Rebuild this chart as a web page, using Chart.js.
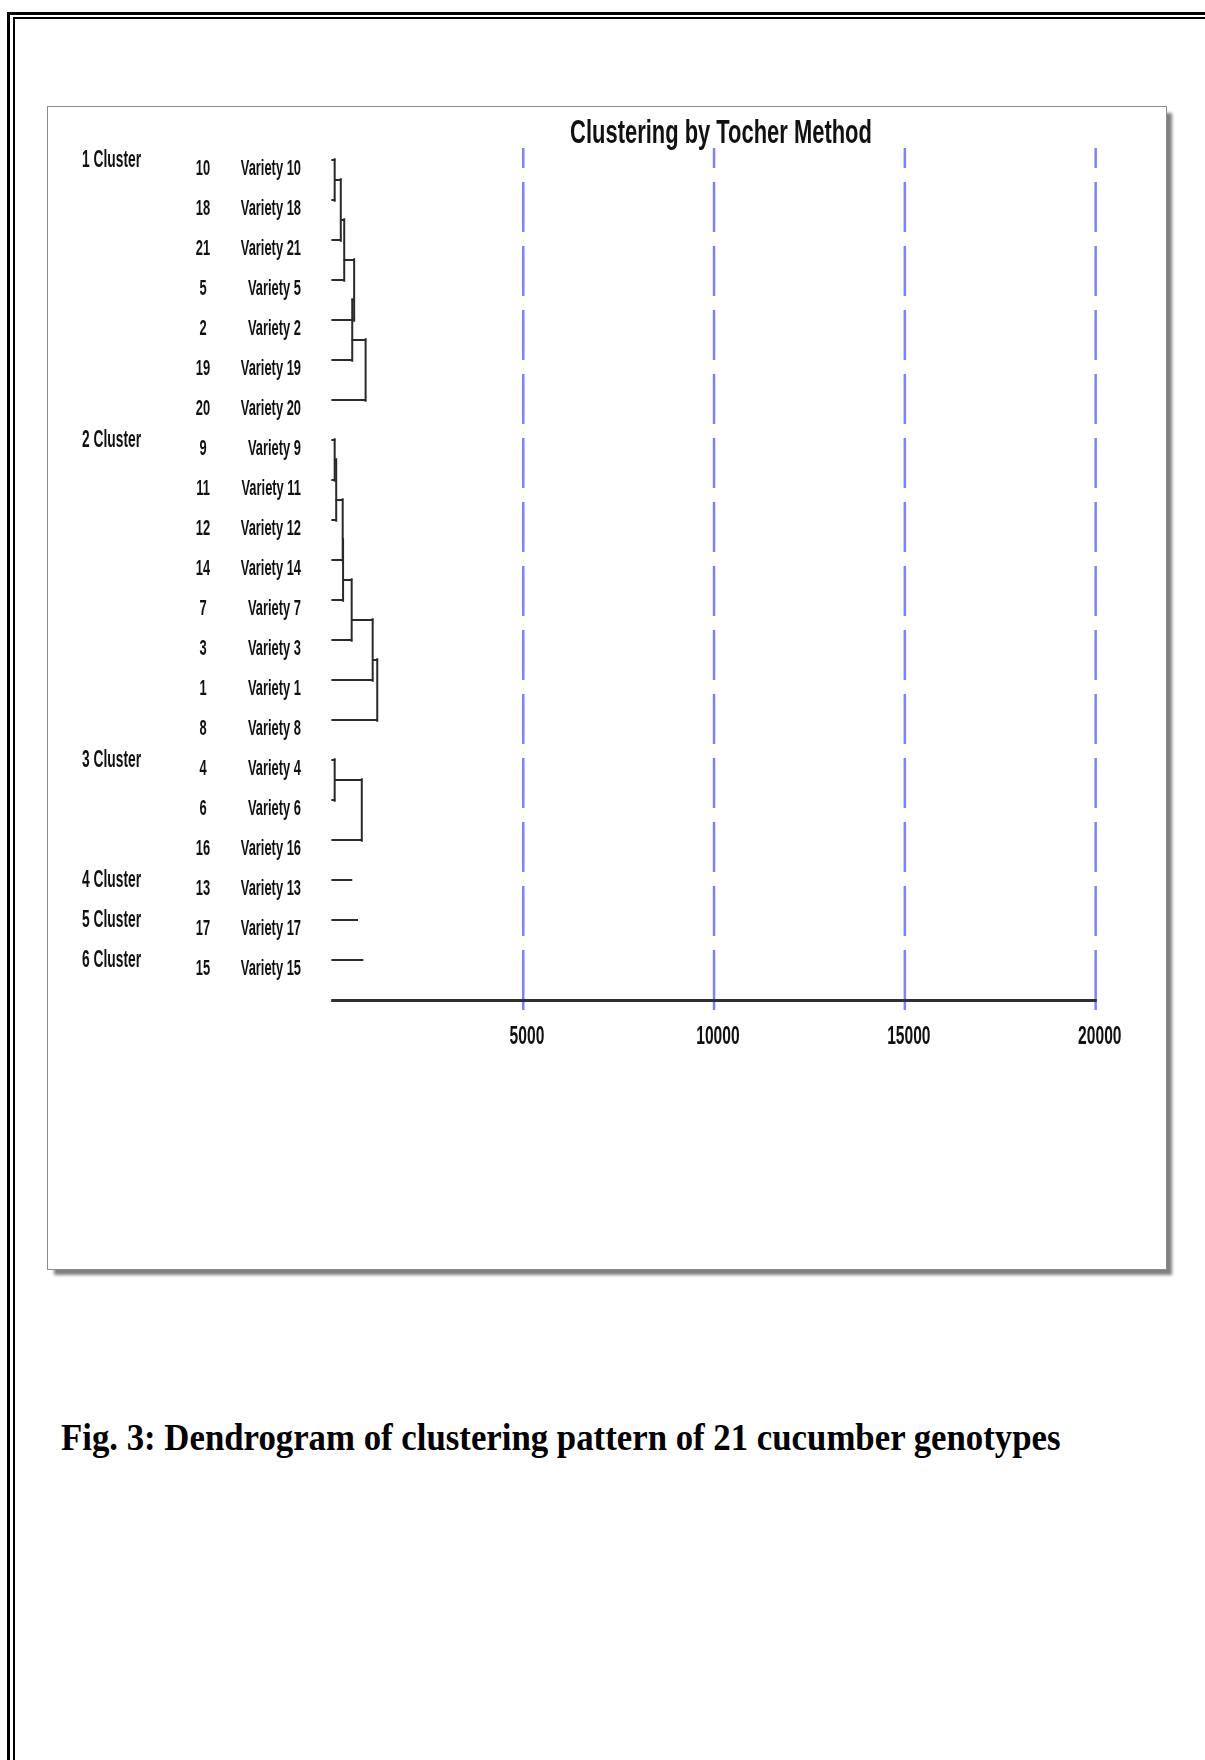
<!DOCTYPE html>
<html>
<head>
<meta charset="utf-8">
<script src="https://cdn.jsdelivr.net/npm/chart.js@4/dist/chart.umd.min.js"></script>
<style>
html,body{margin:0;padding:0;width:1205px;height:1760px;overflow:hidden;background:#fff;}
#outer{position:absolute;left:7px;top:12px;width:1400px;height:1900px;border-top:3px solid #000;border-left:3px solid #000;}
#inner{position:absolute;left:13px;top:17px;width:1400px;height:1900px;border-top:2px solid #000;border-left:2px solid #000;}
#panel{position:absolute;left:47px;top:106px;width:1118px;height:1162px;border:1px solid #8c8c8c;background:#fff;box-shadow:6px 6px 3px -1px rgba(0,0,0,0.5);}
#wrap{position:absolute;left:0;top:0;width:1205px;height:1075px;overflow:hidden;}
#title{position:absolute;left:721px;top:114px;white-space:nowrap;font:bold 34px/34px "Liberation Sans",Arial,sans-serif;color:#111;transform:translateX(-50%) scaleX(0.645);}
#caption{position:absolute;left:61px;top:1419px;white-space:nowrap;font:bold 37px/37px "Liberation Serif","Times New Roman",serif;color:#000;transform:scaleX(0.94);transform-origin:0 0;}
</style>
</head>
<body>
<div id="outer"></div>
<div id="inner"></div>
<div id="panel"></div>
<div id="wrap"><canvas id="c"></canvas></div>
<div id="title">Clustering by Tocher Method</div>
<div id="caption">Fig. 3: Dendrogram of clustering pattern of 21 cucumber genotypes</div>
<script>
// ---- data ----
const clusterLabels = ['1 Cluster', '2 Cluster', '3 Cluster', '4 Cluster', '5 Cluster', '6 Cluster'];
const clusterMembers = [
  [10, 18, 21, 5, 2, 19, 20],
  [9, 11, 12, 14, 7, 3, 1, 8],
  [4, 6, 16],
  [13],
  [17],
  [15]
];
// distance at which each following member joins its cluster (single clusters: line length)
const joinDistances = [
  [70, 230, 320, 580, 530, 880],
  [70, 110, 280, 290, 515, 1065, 1185],
  [70, 780],
  [515],
  [665],
  [805]
];
const xTicks = [5000, 10000, 15000, 20000];

// ---- derived ----
const S = 0.6; // horizontal condensing of the drawing
const FONT = '"Liberation Sans", Arial, sans-serif';
const W = Math.round(1205 / S), H = 1075;
const canvas = document.getElementById('c');
canvas.width = W; canvas.height = H;

const rows = clusterMembers.flat();
const rowIdx = rows.map((_, i) => i);
const clusterStartRow = [];
let acc = 0;
clusterMembers.forEach(m => { clusterStartRow.push(acc); acc += m.length; });

const segs = [];
clusterMembers.forEach((m, ci) => {
  const r0 = clusterStartRow[ci], d = joinDistances[ci];
  if (m.length === 1) { segs.push({v: false, pts: [{x: 0, y: r0}, {x: d[0], y: r0}]}); return; }
  let ny = r0, nh = 0;
  for (let k = 1; k < m.length; k++) {
    const h = d[k - 1], ry = r0 + k;
    segs.push({v: false, pts: [{x: nh, y: ny}, {x: h, y: ny}]});
    segs.push({v: true, pts: [{x: h, y: ny}, {x: h, y: ry}]});
    segs.push({v: false, pts: [{x: 0, y: ry}, {x: h, y: ry}]});
    ny = ry - 0.5; nh = h;
  }
});

const LINE = '#2a2a2a';
const BLUE = '#7f7fff';
const datasets = segs.map(s => ({
  data: s.pts, showLine: true, borderColor: LINE, borderWidth: s.v ? 2 / S : 2,
  pointRadius: 0, pointHoverRadius: 0, fill: false, tension: 0, borderCapStyle: 'square', clip: false,
  xAxisID: 'x', yAxisID: 'y'
}));

const NUMSIZE = 21.5;
const numFont = {family: FONT, size: NUMSIZE, weight: 'bold'};
const mctx = document.createElement('canvas').getContext('2d');
mctx.font = 'bold ' + NUMSIZE + 'px ' + FONT;
const wN = Math.max(...rows.map(v => mctx.measureText(String(v)).width));

const YMIN = -0.3, YMAX = 21;
const squish = {
  id: 'squish',
  beforeDraw(chart) { chart.ctx.save(); chart.ctx.scale(S, 1); },
  afterDraw(chart) { chart.ctx.restore(); }
};

Chart.defaults.color = '#111';
new Chart(canvas, {
  type: 'scatter',
  data: {datasets},
  plugins: [squish],
  options: {
    responsive: false, animation: false, events: [],
    layout: {padding: {left: 82 / S, right: (1205 - 1096) / S, top: 148, bottom: 0}},
    plugins: {legend: {display: false}, title: {display: false}, tooltip: {enabled: false}},
    scales: {
      x: {
        type: 'linear', position: 'bottom', min: 0, max: 20000,
        afterBuildTicks: s => { s.ticks = [0, ...xTicks].map(v => ({value: v})); },
        afterFit: s => { s.height = 75; },
        ticks: {callback: v => (v === 0 ? '' : String(v)), font: {family: FONT, size: 26, weight: 'bold'},
                color: '#111', padding: 11, labelOffset: 4 / S, maxRotation: 0, autoSkip: false},
        grid: {color: c => (c.tick && c.tick.value === 0) ? 'rgba(0,0,0,0)' : BLUE,
               tickColor: c => (c.tick && c.tick.value === 0) ? 'rgba(0,0,0,0)' : BLUE,
               lineWidth: 2.5 / S, tickWidth: 2.5 / S, tickLength: 10, drawTicks: true},
        border: {display: true, color: '#2f2f2f', width: 3, dash: [50, 14], dashOffset: 30}
      },
      y: {type: 'linear', display: false, min: YMIN, max: YMAX, reverse: true},
      yVar: {
        type: 'linear', position: 'left', min: YMIN, max: YMAX, reverse: true,
        afterBuildTicks: s => { s.ticks = rowIdx.map(v => ({value: v})); },
        afterFit: s => { s.width = 332 / S - (203 / S + wN / 2); },
        ticks: {callback: v => 'Variety ' + rows[v], crossAlign: 'near', padding: 31 / S, labelOffset: 9,
                font: numFont, autoSkip: false},
        grid: {display: false, drawTicks: false}, border: {display: false}
      },
      yNum: {
        type: 'linear', position: 'left', min: YMIN, max: YMAX, reverse: true,
        afterBuildTicks: s => { s.ticks = rowIdx.map(v => ({value: v})); },
        afterFit: s => { s.width = 203 / S + wN / 2 - 160 / S; },
        ticks: {callback: v => String(rows[v]), crossAlign: 'center', padding: 0, labelOffset: 9,
                font: numFont, autoSkip: false},
        grid: {display: false, drawTicks: false}, border: {display: false}
      },
      yClu: {
        type: 'linear', position: 'left', min: YMIN, max: YMAX, reverse: true,
        afterBuildTicks: s => { s.ticks = clusterStartRow.map(v => ({value: v})); },
        afterFit: s => { s.width = (160 - 82) / S; },
        ticks: {callback: v => clusterLabels[clusterStartRow.indexOf(v)], crossAlign: 'far', padding: 0, labelOffset: 1,
                font: {family: FONT, size: 23, weight: 'bold'}, autoSkip: false},
        grid: {display: false, drawTicks: false}, border: {display: false}
      }
    }
  }
});
</script>
</body>
</html>
